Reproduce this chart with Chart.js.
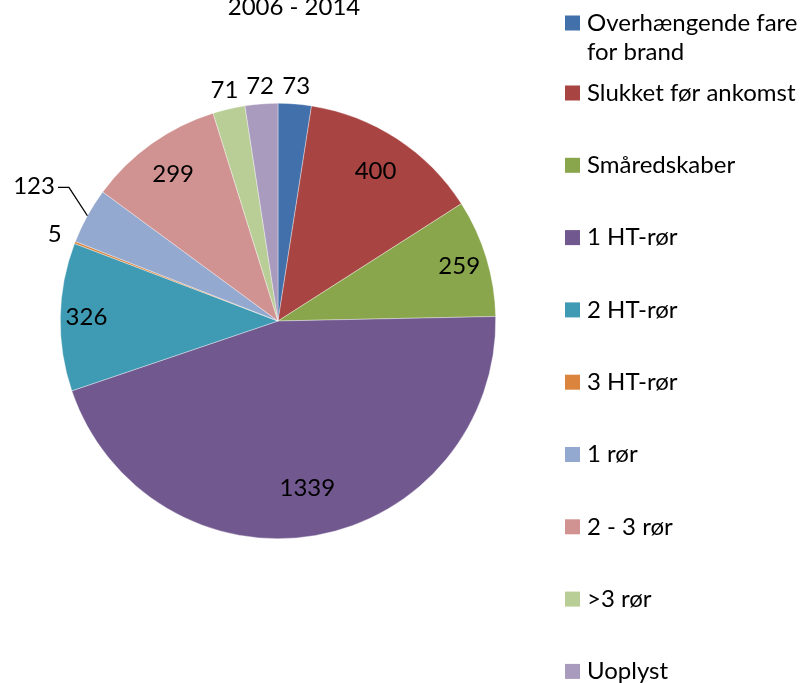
<!DOCTYPE html>
<html>
<head>
<meta charset="utf-8">
<script src="https://cdn.jsdelivr.net/npm/chart.js@4.4.0/dist/chart.umd.min.js"></script>
<style>
  html, body { margin: 0; padding: 0; background: #fff; }
  #wrap { width: 810px; height: 683px; }
</style>
</head>
<body>
<div id="wrap"><canvas id="pieChart" width="810" height="683"></canvas></div>
<script>
// data
const chartTitle = "2006 - 2014";
const categories = [
    "Overhængende fare for brand",
    "Slukket før ankomst",
    "Småredskaber",
    "1 HT-rør",
    "2 HT-rør",
    "3 HT-rør",
    "1 rør",
    "2 - 3 rør",
    ">3 rør",
    "Uoplyst"
];
const counts = [73, 400, 259, 1339, 326, 5, 123, 299, 71, 72];

// style
const sliceColors = ["#4170AB", "#A84442", "#8AA64C", "#71588F", "#3F9AB3",
                     "#DB843D", "#93A9CF", "#D09392", "#B9CE96", "#A99BBD"];
// how far out each value label sits (fraction of radius)
const labelRadius = [1.08, 0.82, 0.87, 0.78, 0.88, 1.10, 1.28, 0.83, 1.09, 1.08];
const hasLeader = [false, false, false, false, false, false, true, false, false, false];
const FONT = "Lato, 'Liberation Sans', sans-serif";
const fontSize = 24;

// wrap a legend text to a max width
function wrapText(ctx, text, maxWidth) {
    const words = text.split(" ");
    const lines = [];
    let line = "";
    words.forEach(w => {
        const test = line ? line + " " + w : w;
        if (ctx.measureText(test).width > maxWidth && line) {
            lines.push(line);
            line = w;
        } else {
            line = test;
        }
    });
    if (line) lines.push(line);
    return lines;
}

// title, value labels and legend, drawn by hand like Excel does
const excelBits = {
    id: "excelBits",
    afterDraw(chart) {
        const ctx = chart.ctx;
        const meta = chart.getDatasetMeta(0);
        ctx.save();
        ctx.fillStyle = "#000";
        ctx.font = fontSize + "px " + FONT;
        ctx.textBaseline = "middle";

        // title (cut off at the top in the original)
        ctx.textAlign = "center";
        ctx.fillText(chartTitle, 294, 7);

        // value labels
        meta.data.forEach((arc, i) => {
            const p = arc.getProps(["x", "y", "startAngle", "endAngle", "outerRadius"], true);
            const mid = (p.startAngle + p.endAngle) / 2;
            const r = p.outerRadius * labelRadius[i];
            const x = p.x + r * Math.cos(mid);
            const y = p.y + r * Math.sin(mid);
            ctx.textAlign = "center";
            ctx.fillText(String(counts[i]), x, y);
            if (hasLeader[i]) {
                const w = ctx.measureText(String(counts[i])).width;
                const ex = p.x + p.outerRadius * Math.cos(mid);
                const ey = p.y + p.outerRadius * Math.sin(mid);
                const sx = x + w / 2 + 3;
                ctx.beginPath();
                ctx.moveTo(sx, y + 1);
                ctx.lineTo(sx + 11, y + 1);
                ctx.lineTo(ex, ey);
                ctx.strokeStyle = "#000";
                ctx.lineWidth = 1.3;
                ctx.stroke();
            }
        });

        // legend
        ctx.textAlign = "left";
        const boxX = 565, boxSize = 15, textX = 587;
        let y = 23;
        categories.forEach((name, i) => {
            if (i === 1) y = 93;
            else if (i > 1) y = 93 + (i - 1) * 72.3;
            ctx.fillStyle = sliceColors[i];
            ctx.fillRect(boxX, y - boxSize / 2, boxSize, boxSize);
            ctx.fillStyle = "#000";
            const lines = wrapText(ctx, name, 222);
            lines.forEach((ln, k) => ctx.fillText(ln, textX, y + k * 29));
        });
        ctx.restore();
    }
};

new Chart(document.getElementById("pieChart"), {
    type: "pie",
    data: {
        labels: categories,
        datasets: [{
            data: counts,
            backgroundColor: sliceColors,
            borderColor: "rgba(255,255,255,0.6)",
            borderWidth: 0.6
        }]
    },
    options: {
        responsive: false,
        animation: false,
        layout: { padding: { left: 60, right: 314, top: 103, bottom: 144 } },
        plugins: {
            legend: { display: false },
            title: { display: false },
            tooltip: { enabled: false }
        }
    },
    plugins: [excelBits]
});
</script>
</body>
</html>
